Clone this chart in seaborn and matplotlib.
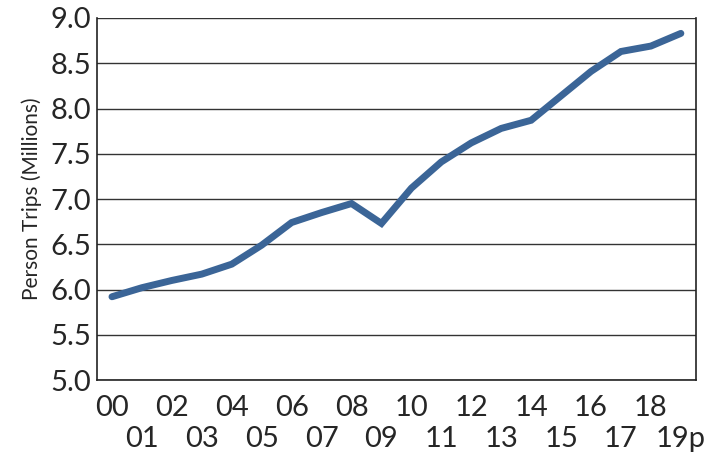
import numpy as np
import pandas as pd
import matplotlib
matplotlib.use("Agg")
import matplotlib.pyplot as plt
import seaborn as sns

# Person trips by year
years = ["00", "01", "02", "03", "04", "05", "06", "07", "08", "09",
         "10", "11", "12", "13", "14", "15", "16", "17", "18", "19p"]
trips = [5.92, 6.02, 6.10, 6.17, 6.28, 6.49, 6.74, 6.85, 6.95, 6.73,
         7.12, 7.41, 7.62, 7.78, 7.87, 8.14, 8.41, 8.63, 8.69, 8.83]
y_ticks = [5.0, 5.5, 6.0, 6.5, 7.0, 7.5, 8.0, 8.5, 9.0]

df = pd.DataFrame({"pos": np.arange(len(years)), "trips": trips})

sns.set_style("white")
plt.rcParams['font.family'] = ['Lato', 'DejaVu Sans']

fig = plt.figure(figsize=(7.05, 4.58), dpi=100)
ax = fig.add_axes([0.1376, 0.1703, 0.8494, 0.7904])

for t in y_ticks:
    ax.axhline(t, color="#333333", lw=1.0, zorder=1)

sns.lineplot(data=df, x="pos", y="trips", ax=ax, color="#3b6597",
             linewidth=5, solid_capstyle="round", solid_joinstyle="miter", zorder=3)

ax.set_xlim(-0.5, len(years) - 0.5)
ax.set_ylim(5.0, 9.0)
ax.set_yticks(y_ticks)
ax.set_yticklabels([f"{t:.1f}" for t in y_ticks], fontsize=21)

# even years on the first row, odd years on a second row below
pos = df["pos"].to_numpy()
ax.set_xticks(pos[::2])
ax.set_xticklabels(years[::2], fontsize=21)
ax.set_xticks(np.arange(0.5, len(years) - 0.5, 1), minor=True)
ax.tick_params(axis="x", which="major", length=0, pad=11)
ax.tick_params(axis="x", which="minor", length=4, direction="in", color="#222222", width=0.8)

sec = ax.secondary_xaxis("bottom")
sec.set_xticks(pos[1::2])
sec.set_xticklabels(years[1::2], fontsize=21)
sec.tick_params(axis="x", length=0, pad=33)
sec.spines["bottom"].set_visible(False)

ax.tick_params(axis="y", length=0, pad=4)
ax.set_xlabel("")
ax.set_ylabel("Person Trips (Millions)", fontsize=15, labelpad=6)

for side in ["left", "bottom", "right"]:
    ax.spines[side].set_visible(True)
    ax.spines[side].set_color("#222222")
    ax.spines[side].set_linewidth(1.2)
ax.spines["top"].set_visible(False)

fig.savefig("out.png", dpi=100)
